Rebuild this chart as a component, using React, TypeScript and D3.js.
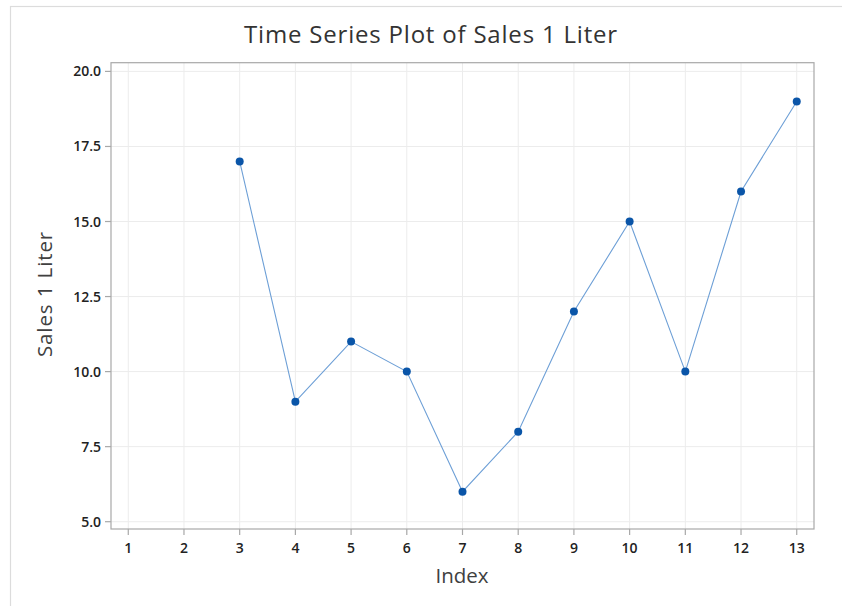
import React from "react";
import * as d3 from "d3";

const indexValues = [3, 4, 5, 6, 7, 8, 9, 10, 11, 12, 13];
const salesValues = [17, 9, 11, 10, 6, 8, 12, 15, 10, 16, 19];
const xTicks = [1, 2, 3, 4, 5, 6, 7, 8, 9, 10, 11, 12, 13];
const yTicks = [5, 7.5, 10, 12.5, 15, 17.5, 20];

const W = 842;
const H = 606;
const L = 111, R = 814, T = 62.7, B = 529;
const FONT = "'Open Sans', 'Noto Sans', sans-serif";

export default function App() {
  const x = d3.scaleLinear().domain([0.69, 13.31]).range([L, R]);
  const y = d3.scaleLinear().domain([4.757, 20.29]).range([B, T]);
  const pts = indexValues.map((v, i) => [x(v), y(salesValues[i])] as [number, number]);
  const line = d3.line()(pts) || "";
  return (
    <svg width={W} height={H} style={{ position: "absolute", left: 0, top: 0, background: "#fff" }}>
      <rect x={10.5} y={6.5} width={W} height={H} fill="#fff" stroke="#dcdcdc" strokeWidth={1.2} />
      <text x={431} y={43} textAnchor="middle" fontFamily={FONT} fontSize={24} fontWeight={500} fill="#333" letterSpacing={0.8}>
        Time Series Plot of Sales 1 Liter
      </text>
      {xTicks.map((t) => (
        <line key={"gx" + t} x1={x(t)} x2={x(t)} y1={T} y2={B} stroke="#ececec" strokeWidth={1} />
      ))}
      {yTicks.map((t) => (
        <line key={"gy" + t} x1={L} x2={R} y1={y(t)} y2={y(t)} stroke="#ececec" strokeWidth={1} />
      ))}
      <rect x={L} y={T} width={R - L} height={B - T} fill="none" stroke="#a8a8a8" strokeWidth={1.2} />
      {xTicks.map((t) => (
        <g key={"xt" + t}>
          <line x1={x(t)} x2={x(t)} y1={B} y2={B + 6} stroke="#a8a8a8" strokeWidth={1.2} />
          <text x={x(t)} y={553} textAnchor="middle" fontFamily={FONT} fontSize={14} fontWeight={600} fill="#222">
            {t}
          </text>
        </g>
      ))}
      {yTicks.map((t) => (
        <g key={"yt" + t}>
          <line x1={L - 6} x2={L} y1={y(t)} y2={y(t)} stroke="#a8a8a8" strokeWidth={1.2} />
          <text x={101} y={y(t) + 5} textAnchor="end" fontFamily={FONT} fontSize={14} fontWeight={600} fill="#222">
            {t.toFixed(1)}
          </text>
        </g>
      ))}
      <text x={462} y={583} textAnchor="middle" fontFamily={FONT} fontSize={20.5} fontWeight={500} fill="#404040">
        Index
      </text>
      <text
        transform={`translate(52,${294}) rotate(-90)`}
        textAnchor="middle"
        fontFamily={FONT}
        fontSize={20.5}
        fontWeight={500}
        letterSpacing={0.9}
        fill="#404040"
      >
        Sales 1 Liter
      </text>
      <path d={line} fill="none" stroke="#6d9fd6" strokeWidth={1.1} />
      {pts.map((p, i) => (
        <circle key={"p" + i} cx={p[0]} cy={p[1]} r={4} fill="#0a55a8" />
      ))}
    </svg>
  );
}
